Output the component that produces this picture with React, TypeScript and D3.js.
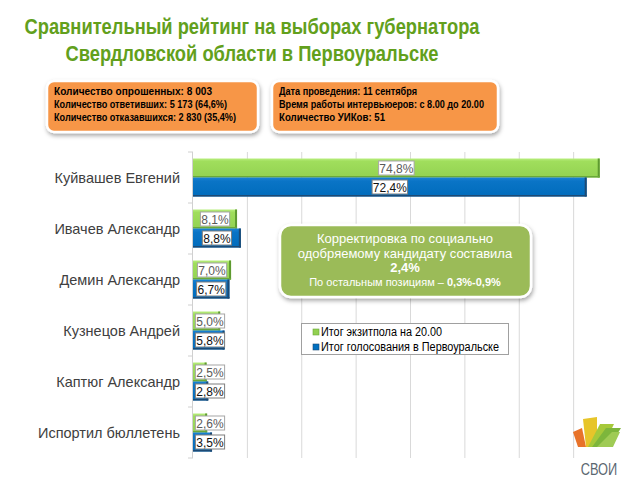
import React from 'react';
import * as d3 from 'd3';

const candidates = [
  'Куйвашев Евгений',
  'Ивачев Александр',
  'Демин Александр',
  'Кузнецов Андрей',
  'Каптюг Александр',
  'Испортил бюллетень',
];
const exitPoll = [74.8, 8.1, 7.0, 5.0, 2.5, 2.6];
const voteResult = [72.4, 8.8, 6.7, 5.8, 2.8, 3.5];
const seriesNames = ['Итог экзитпола на 20.00', 'Итог голосования в Первоуральске'];
const gridTicks = [10, 20, 30, 40, 50, 60, 70];

const titleLines = ['Сравнительный рейтинг на выборах губернатора', 'Свердловской области в Первоуральске'];
const infoLeft = [
  'Количество опрошенных: 8 003',
  'Количество ответивших: 5 173 (64,6%)',
  'Количество отказавшихся: 2 830 (35,4%)',
];
const infoRight = [
  'Дата проведения: 11 сентября',
  'Время работы интервьюеров: с 8.00 до 20.00',
  'Количество УИКов: 51',
];

const W = 624;
const H = 485;
const font = 'Liberation Sans, Arial, sans-serif';
const fmt = (v: number) => v.toFixed(1).replace('.', ',') + '%';

const App = () => {
  const x = d3.scaleLinear().domain([0, 80]).range([193, 628]);
  const y = d3.scaleBand().domain(candidates).range([152, 458]);
  const sub = d3.scaleBand().domain(['a', 'b']).range([0, 38]);
  const barOff = (y.bandwidth() - 38) / 2;

  const bar = (v: number, i: number, k: 'a' | 'b') => {
    const y0 = (y(candidates[i]) as number) + barOff + (sub(k) as number);
    const h = sub.bandwidth();
    const x1 = x(v);
    const green = k === 'a';
    const cx = Math.max((x(0) + x1) / 2, x(0) + 17);
    const label = fmt(v);
    const bw = label.length * 6.3 + 4;
    return (
      <g key={k + i}>
        <rect x={x(0)} y={y0} width={x1 - x(0)} height={h} fill={green ? 'url(#gGreen)' : 'url(#gBlue)'} />
        <rect x={x1 - 2} y={y0} width={2} height={h} fill={green ? '#5e9a30' : '#1d4a74'} />
        <rect x={x(0)} y={y0 + h - 1.5} width={x1 - x(0)} height={1.5} fill={green ? '#6aa83a' : '#1d4a74'} />
        <rect x={cx - bw / 2} y={y0 + 2.5} width={bw} height={14} fill="#fff" stroke={green ? '#a6a6a6' : '#7f7f7f'} strokeWidth={1} />
        <text x={cx} y={y0 + 14} textAnchor="middle" fontSize={12} fontFamily={font} fill={green ? '#595959' : '#111'}>
          {label}
        </text>
      </g>
    );
  };

  return (
    <svg width={W} height={H} style={{ position: 'absolute', left: 0, top: 0, background: '#fff' }}>
      <defs>
        <linearGradient id="gGreen" x1="0" y1="0" x2="0" y2="1">
          <stop offset="0" stopColor="#b8ee7e" />
          <stop offset="0.15" stopColor="#a0de5c" />
          <stop offset="1" stopColor="#93d252" />
        </linearGradient>
        <linearGradient id="gBlue" x1="0" y1="0" x2="0" y2="1">
          <stop offset="0" stopColor="#1a82d4" />
          <stop offset="0.2" stopColor="#0a74c6" />
          <stop offset="1" stopColor="#006cbc" />
        </linearGradient>
        <filter id="shadow" x="-10%" y="-20%" width="120%" height="150%">
          <feDropShadow dx="1" dy="2.5" stdDeviation="2" floodColor="#000" floodOpacity="0.35" />
        </filter>
      </defs>

      {/* title */}
      <text x={252} y={34} textAnchor="middle" fontSize={22} fontWeight="bold" fontFamily={font} fill="#62a01c" textLength={455} lengthAdjust="spacingAndGlyphs">
        {titleLines[0]}
      </text>
      <text x={252} y={61} textAnchor="middle" fontSize={22} fontWeight="bold" fontFamily={font} fill="#62a01c" textLength={373} lengthAdjust="spacingAndGlyphs">
        {titleLines[1]}
      </text>

      {/* info boxes */}
      <rect x={47} y={81} width={211} height={51} rx={7} fill="#f79646" stroke="#fff" strokeWidth={2.5} filter="url(#shadow)" />
      <rect x={272} y={81} width={226} height={51} rx={7} fill="#f79646" stroke="#fff" strokeWidth={2.5} filter="url(#shadow)" />
      {infoLeft.map((t, i) => (
        <text key={'l' + i} x={54} y={95 + i * 13} fontSize={11.5} fontWeight="bold" fontFamily={font} fill="#000" textLength={[158, 173, 182][i]} lengthAdjust="spacingAndGlyphs">
          {t}
        </text>
      ))}
      {infoRight.map((t, i) => (
        <text key={'r' + i} x={279} y={95 + i * 13} fontSize={11.5} fontWeight="bold" fontFamily={font} fill="#000" textLength={[138, 205, 106][i]} lengthAdjust="spacingAndGlyphs">
          {t}
        </text>
      ))}

      {/* grid */}
      {gridTicks.map((t) => (
        <line key={t} x1={x(t)} x2={x(t)} y1={152} y2={458} stroke="#d9d9d9" strokeWidth={1} />
      ))}
      <line x1={x(0) - 0.5} x2={x(0) - 0.5} y1={152} y2={458} stroke="#d0d0d0" />
      {[...candidates.map((c) => y(c) as number), 458].map((v, i) => (
        <line key={'t' + i} x1={x(0) - 5} x2={x(0)} y1={v} y2={v} stroke="#d0d0d0" />
      ))}

      {/* category labels */}
      {candidates.map((c) => (
        <text key={c} x={180} y={(y(c) as number) + y.bandwidth() / 2 + 5} textAnchor="end" fontSize={14.5} fontFamily={font} fill="#404040">
          {c}
        </text>
      ))}

      {/* bars */}
      {exitPoll.map((v, i) => bar(v, i, 'a'))}
      {voteResult.map((v, i) => bar(v, i, 'b'))}

      {/* callout */}
      <rect x={280} y={225} width={251} height={72} rx={11} fill="#9bbb59" stroke="#fff" strokeWidth={2.5} filter="url(#shadow)" />
      <text x={405} y={243} textAnchor="middle" fontSize={13} fontFamily={font} fill="#fff">Корректировка по социально</text>
      <text x={405} y={258} textAnchor="middle" fontSize={13} fontFamily={font} fill="#fff">одобряемому кандидату составила</text>
      <text x={405} y={272} textAnchor="middle" fontSize={13} fontWeight="bold" fontFamily={font} fill="#fff">2,4%</text>
      <text x={405} y={286} textAnchor="middle" fontSize={11} fontFamily={font} fill="#fff">
        По остальным позициям – <tspan fontWeight="bold">0,3%-0,9%</tspan>
      </text>

      {/* legend */}
      <rect x={301.5} y={323.5} width={207} height={31} fill="#fff" stroke="#a0a0a0" />
      {seriesNames.map((s, i) => (
        <g key={s}>
          <rect x={313} y={329 + i * 15} width={6} height={6} fill={i === 0 ? '#92d050' : '#0070c0'} stroke={i === 0 ? '#6aa83a' : '#1d4a74'} strokeWidth={0.6} />
          <text x={321} y={335.5 + i * 15} fontSize={12} fontFamily={font} fill="#000" textLength={[121, 178][i]} lengthAdjust="spacingAndGlyphs">{s}</text>
        </g>
      ))}

      {/* logo */}
      <g>
        <polygon points="573,432 582,428 586,447 578,447" fill="#e8732a" />
        <polygon points="583,419 597,417 597,447 586,447" fill="#e7c52a" />
        <polygon points="588,447 600,424 614,424 603,447" fill="#a6c93a" />
        <polygon points="592,447 606,428 621,428 609,447" fill="#7db63c" />
        <polygon points="597,447 612,432 620,432 613,447" fill="#9fcb55" />
        <g transform="translate(599,475) scale(0.8,1)">
          <text x={0} y={0} textAnchor="middle" fontSize={16} fontFamily={font} fill="#5b6770">СВОИ</text>
        </g>
      </g>
    </svg>
  );
};

export default App;
